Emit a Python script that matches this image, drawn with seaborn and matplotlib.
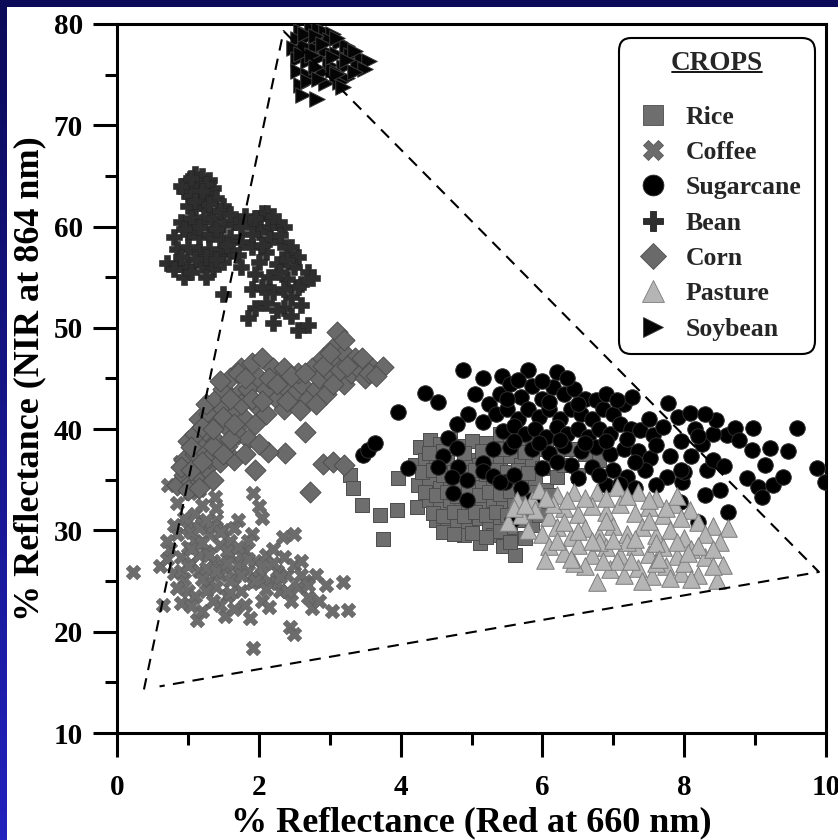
import matplotlib
matplotlib.use("Agg")
import numpy as np
import pandas as pd
import matplotlib.pyplot as plt
import seaborn as sns
from matplotlib.lines import Line2D
from matplotlib.patches import Rectangle
from matplotlib.transforms import IdentityTransform
from matplotlib.ticker import MultipleLocator

# ---------------------------------------------------------------- data
crops = ["Rice", "Coffee", "Sugarcane", "Bean", "Corn", "Pasture", "Soybean"]

rice_x = [3.29, 3.33, 3.46, 3.71, 3.75, 3.96, 3.95,
          4.27, 4.41, 4.55, 4.70, 4.85, 5.00, 5.20, 5.40, 5.55, 5.70, 5.85,
          4.20, 4.35, 4.50, 4.65, 4.80, 4.95, 5.10, 5.25, 5.40, 5.55, 5.70, 5.85, 6.00, 6.20, 6.40, 6.60, 6.80,
          4.25, 4.40, 4.55, 4.70, 4.85, 5.00, 5.15, 5.30, 5.45, 5.60, 5.75, 5.90, 6.05, 6.20,
          4.23, 4.40, 4.55, 4.70, 4.85, 5.00, 5.15, 5.30, 5.45, 5.60, 5.75, 5.90,
          4.50, 4.65, 4.80, 4.95, 5.10, 5.25, 5.40, 5.55, 5.70, 5.85,
          5.12, 5.30, 5.45, 5.61, 5.75, 4.90,
          4.30, 4.45, 4.60, 4.75, 4.90, 5.05, 5.20, 5.35, 5.50, 5.65, 5.80,
          4.35, 4.50, 4.65, 4.80, 4.95, 5.10, 5.25, 5.40, 5.55, 5.70, 5.85,
          4.45, 4.60, 4.75, 4.90, 5.05, 5.20, 5.35, 5.50, 5.65,
          4.60, 4.75, 5.00, 5.20, 5.40, 5.55,
          4.40, 4.60, 4.90, 5.15, 5.45, 5.75, 6.05, 6.30, 6.50, 6.10, 5.95]
rice_y = [35.5, 34.2, 32.5, 31.5, 29.2, 35.2, 32.0,
          38.2, 38.9, 38.5, 39.0, 38.3, 38.8, 38.6, 39.5, 38.8, 38.2, 39.0,
          36.5, 37.0, 36.3, 36.8, 36.0, 37.0, 36.5, 37.2, 36.8, 37.3, 36.5, 37.0, 36.2, 37.5, 38.0, 37.5, 37.0,
          34.5, 35.0, 34.2, 35.0, 34.5, 35.2, 34.3, 35.0, 34.5, 35.2, 34.5, 35.0, 34.0, 35.3,
          32.3, 33.0, 32.3, 33.0, 32.0, 32.8, 32.2, 33.0, 32.3, 33.0, 32.0, 32.8,
          31.0, 30.3, 31.0, 30.5, 31.2, 30.3, 31.0, 30.3, 31.0, 30.5,
          28.8, 29.5, 28.5, 27.6, 29.3, 29.5,
          35.8, 36.0, 35.5, 35.8, 35.8, 36.0, 35.6, 36.0, 35.8, 36.0, 35.7,
          33.8, 33.5, 33.8, 33.4, 33.9, 33.5, 33.8, 33.6, 33.9, 33.5, 33.8,
          31.7, 31.4, 31.8, 31.4, 31.8, 31.5, 31.8, 31.5, 31.8,
          29.8, 29.6, 29.7, 29.4, 29.9, 28.9,
          37.6, 37.8, 37.6, 37.8, 38.0, 37.7, 38.0, 36.5, 35.5, 33.5, 31.5]

coffee_x = [0.23, 0.60, 0.65, 0.70, 0.72, 0.75, 0.80, 0.85, 0.85, 0.89, 0.90, 0.90, 0.95,
            1.00, 1.00, 1.00, 1.00, 1.03, 1.05, 1.10, 1.10, 1.10, 1.13, 1.15, 1.20, 1.20, 1.20,
            1.25, 1.30, 1.30, 1.35, 1.38, 1.40, 1.40, 1.45, 1.50, 1.50, 1.52, 1.55, 1.60, 1.60,
            1.65, 1.70, 1.70, 1.75, 1.80, 1.80, 1.85, 1.88, 1.90, 1.90, 1.92, 1.92, 1.95, 2.00,
            2.00, 2.04, 2.05, 2.10, 2.15, 2.20, 2.25, 2.30, 2.34, 2.35, 2.40, 2.45, 2.44, 2.50,
            2.50, 2.50, 2.55, 2.60, 2.65, 2.70, 2.75, 2.80, 2.85, 2.95, 3.03, 3.19, 3.26,
            1.05, 1.15, 1.25, 1.35, 1.45, 1.55, 1.65, 1.75, 1.85, 1.25, 1.45, 0.95, 1.15, 2.15,
            2.25, 1.65,
            0.70, 0.80, 0.90, 1.00, 1.05, 1.15, 1.20, 1.25, 1.30, 1.40, 1.45, 1.55, 1.60, 1.70,
            1.75, 1.85, 1.95, 2.05, 2.10, 2.20, 2.30, 2.40, 2.60, 2.70, 1.35, 1.60, 1.05, 0.85,
            1.20, 1.40]
coffee_y = [25.9, 26.5, 22.6, 27.2, 34.5, 28.2, 25.8, 29.6, 32.7, 36.8, 27.4, 22.8, 25.2,
            30.2, 28.4, 24.0, 35.3, 33.7, 26.8, 31.6, 29.0, 23.5, 21.2, 26.0, 32.5, 30.6, 22.0,
            28.0, 25.0, 29.6, 27.0, 33.3, 31.0, 24.4, 28.6, 26.5, 30.0, 21.6, 23.5, 27.6, 29.0,
            25.4, 31.0, 26.6, 24.0, 28.0, 22.6, 26.0, 21.4, 29.6, 24.8, 33.7, 18.4, 27.0, 25.4,
            32.4, 31.2, 23.0, 27.6, 25.0, 28.2, 26.0, 24.0, 29.4, 27.4, 25.6, 23.0, 20.5, 19.8,
            26.6, 29.6, 24.4, 27.0, 25.0, 23.4, 22.3, 25.6, 23.0, 24.6, 22.0, 24.9, 22.1,
            29.8, 27.6, 26.3, 30.4, 25.6, 28.0, 30.2, 27.6, 29.0, 24.0, 22.6, 31.2, 34.0, 22.4,
            24.8, 22.2,
            29.0, 30.5, 26.0, 26.5, 28.2, 30.2, 28.8, 31.0, 27.6, 26.0, 29.8, 26.8, 25.0, 28.4,
            25.6, 27.2, 25.0, 26.5, 24.2, 26.8, 25.4, 24.0, 25.6, 24.6, 23.0, 23.8, 22.5, 24.3,
            25.2, 32.2]

sugarcane_x = [3.47, 3.54, 3.64, 3.96, 4.10, 4.34, 4.53, 4.88, 5.16, 5.43, 5.80, 6.20,
               4.67, 4.80, 4.60, 4.53, 4.81, 4.72, 4.94, 4.74, 4.94, 5.16, 5.16, 5.30, 5.30,
               5.47, 5.16, 4.95, 4.80, 5.05, 5.25, 5.60, 5.70, 5.85,
               5.40, 5.55, 5.70, 5.85, 6.00, 6.15, 6.30, 6.45, 6.60, 6.75,
               5.35, 5.50, 5.65, 5.80, 5.95, 6.10, 6.25, 6.40, 6.55, 6.70, 6.85, 7.00, 7.15, 7.26,
               5.45, 5.60, 5.75, 5.90, 6.05, 6.20, 6.35, 6.50, 6.65, 6.80, 6.95, 7.10, 7.25, 7.38,
               7.56, 7.50, 7.77, 7.91, 8.08,
               5.55, 5.85, 6.10, 6.30, 6.55, 6.75, 6.95, 7.15, 7.35, 7.52, 7.80,
               6.40, 6.70, 7.00, 7.20, 7.45, 7.76, 7.97, 7.94, 7.30, 6.90,
               8.32, 8.41, 8.56, 8.60, 8.72, 8.77, 8.97, 8.96, 9.14, 9.21, 9.46, 9.59, 8.88,
               9.04, 9.25, 9.39, 9.10, 9.87, 9.99, 8.62, 8.19, 8.25, 8.40, 8.15,
               7.60, 8.00, 8.50, 8.30, 6.20, 6.50, 6.80, 7.10, 5.40, 5.57,
               5.65, 6.00, 6.35, 5.50, 6.10, 6.50, 6.90, 7.05, 5.60, 5.95, 6.25, 6.60,
               6.90, 7.20, 7.60, 7.95, 8.20, 7.70, 8.45, 8.30, 6.00, 7.30, 7.95, 8.10]
sugarcane_y = [37.4, 37.9, 38.6, 41.7, 36.2, 43.6, 42.7, 45.8, 45.0, 45.2, 45.8, 45.6,
               39.1, 38.1, 37.3, 36.3, 36.3, 35.3, 35.0, 33.7, 33.0, 36.7, 35.9, 38.0, 35.4,
               34.8, 40.7, 41.5, 40.5, 43.5, 42.5, 35.5, 34.2, 33.0,
               43.5, 44.5, 43.2, 44.3, 43.0, 44.2, 43.5, 44.0, 43.0, 42.9,
               41.5, 42.0, 41.0, 42.0, 41.2, 42.0, 41.0, 42.0, 41.5, 41.0, 42.0, 41.5, 42.5, 43.2,
               39.8, 40.3, 39.5, 40.0, 39.2, 40.2, 39.5, 40.0, 39.2, 40.0, 39.5, 40.5, 40.0, 39.9,
               39.4, 41.0, 42.6, 41.2, 41.6,
               38.2, 38.0, 37.6, 38.3, 37.8, 38.2, 37.5, 38.0, 37.8, 37.2, 37.3,
               36.5, 36.3, 36.0, 35.3, 36.0, 35.3, 34.8, 32.8, 34.2, 34.5,
               36.0, 37.0, 36.4, 39.4, 40.1, 38.9, 40.1, 37.9, 36.5, 38.1, 37.8, 40.1, 35.2,
               34.3, 34.5, 35.3, 33.3, 36.2, 34.8, 31.8, 30.8, 38.5, 39.5, 40.0,
               34.5, 35.8, 34.0, 33.5, 36.8, 35.2, 35.5, 34.6, 34.8, 31.0,
               44.9, 44.8, 45.0, 43.0, 42.7, 42.5, 43.5, 42.9, 38.8, 38.6, 38.9, 38.6,
               38.8, 39.0, 38.4, 38.8, 39.3, 40.2, 40.9, 41.5, 36.2, 36.8, 36.0, 37.3]

bean_x = [1.00, 1.10, 1.20, 1.30, 1.15, 1.35, 0.95, 1.05, 1.25, 1.40, 1.50, 1.20, 1.10, 1.30, 1.00,
          0.90, 1.05, 1.20, 1.35, 1.50, 1.65, 1.80, 1.95, 2.05, 0.80, 1.00, 1.15, 1.30, 1.45,
          1.60, 1.75, 0.85, 1.00, 1.15, 1.30, 1.45, 1.60, 0.70, 0.85, 1.00, 1.20, 1.35, 1.50,
          0.95, 1.25, 1.50,
          2.11, 2.16, 2.20, 2.35, 2.00, 2.15, 2.30, 1.90, 2.10, 2.40, 2.55, 2.00, 2.25, 2.50,
          2.70, 1.95, 2.15, 2.40, 2.75, 2.60, 1.90, 2.20, 2.45, 2.10, 2.35, 1.95, 2.60, 1.85,
          2.20, 2.55, 2.70,
          0.90, 1.05, 1.25, 1.20, 1.10, 1.30, 1.45, 1.60, 1.75, 1.90, 1.15, 0.95, 1.40, 1.55,
          1.70, 1.25, 1.10, 0.90, 1.40, 1.05, 0.80, 1.75, 2.30, 2.45, 2.05, 2.30, 2.55, 2.05,
          2.35, 2.25, 2.45, 1.95, 2.20, 2.40]
bean_y = [64.5, 65.2, 65.0, 64.6, 64.0, 63.8, 63.5, 63.0, 63.2, 62.8, 62.0, 62.3, 61.8, 61.5, 62.0,
          60.5, 60.8, 60.5, 60.8, 60.2, 60.5, 61.0, 60.3, 61.3, 59.0, 59.5, 59.0, 59.3, 58.8,
          59.0, 58.5, 57.8, 58.0, 57.5, 57.8, 57.3, 57.6, 56.4, 56.3, 56.0, 56.2, 55.8, 56.5,
          55.0, 55.0, 53.3,
          61.3, 60.0, 60.5, 60.0, 59.5, 58.8, 58.5, 58.0, 57.5, 57.3, 57.0, 56.5, 56.3, 56.0,
          55.5, 55.3, 55.0, 54.8, 54.9, 54.3, 53.8, 53.5, 53.0, 52.5, 52.0, 52.0, 52.3, 51.0,
          50.5, 49.8, 50.3,
          64.0, 64.8, 64.2, 63.5, 62.5, 62.2, 61.5, 61.2, 60.0, 59.3, 60.0, 59.8, 59.8, 58.2,
          57.2, 57.0, 56.8, 57.0, 56.8, 55.5, 55.8, 56.0, 59.2, 58.0, 58.2, 55.5, 54.0, 54.0,
          53.8, 51.8, 51.2, 60.8, 61.0, 56.7]

corn_x = [0.85, 0.95, 1.05, 1.15, 1.25, 1.35, 0.95, 1.10, 1.20, 1.30, 1.45, 1.00, 1.10, 1.25,
          1.40, 1.55, 1.65, 1.15, 1.30, 1.40, 1.55, 1.70, 1.85, 1.25, 1.40, 1.50, 1.65, 1.80,
          1.95, 1.50, 1.60, 1.70, 1.85, 1.95, 2.10, 1.75, 1.90, 2.00, 2.10, 2.25, 2.35, 2.05,
          2.20, 2.30, 2.40, 2.50, 2.60, 2.70, 2.80, 2.55, 2.75, 2.85, 2.95, 3.00, 3.10, 3.20,
          3.30, 3.40, 3.50, 3.60, 3.75, 2.90, 3.05, 3.20, 3.35, 3.10, 3.20, 2.72, 2.90, 3.05,
          3.20, 2.65, 2.37, 2.13, 2.58, 1.80, 2.00, 1.95,
          0.90, 1.05, 1.20, 1.35, 1.50, 1.60, 1.05, 1.20, 1.35, 1.50, 1.65, 1.75, 1.60, 1.45,
          1.70, 1.80, 1.90, 2.05, 2.15, 2.25, 2.35, 2.45, 2.40, 2.65, 2.90, 3.05, 3.15, 3.25,
          3.45, 3.55, 3.65, 3.00, 2.80, 1.00, 1.15]
corn_y = [34.5, 35.5, 34.8, 35.5, 36.2, 35.0, 37.0, 37.5, 38.0, 37.2, 36.8, 38.8, 39.5, 39.8,
          38.8, 38.3, 37.0, 41.0, 41.5, 40.5, 40.2, 39.5, 39.0, 42.5, 43.0, 42.0, 41.5, 41.0,
          40.5, 44.0, 45.0, 43.5, 44.0, 42.5, 41.5, 46.0, 46.5, 45.0, 44.0, 43.0, 42.0, 47.0,
          46.0, 45.0, 44.0, 43.5, 44.5, 43.0, 44.0, 45.5, 46.0, 45.0, 43.5, 45.5, 46.5, 44.5,
          45.5, 46.0, 45.0, 46.0, 46.1, 47.0, 48.0, 47.5, 47.0, 49.6, 48.8, 33.8, 36.6, 36.8,
          36.5, 39.7, 37.6, 37.7, 41.9, 37.5, 38.5, 36.0,
          36.3, 36.0, 36.8, 38.3, 37.5, 39.0, 38.2, 40.2, 40.0, 41.2, 40.5, 42.5, 43.0, 44.8,
          45.5, 45.0, 43.0, 42.8, 45.0, 44.5, 46.0, 45.2, 42.8, 45.5, 46.2, 44.5, 45.8, 46.2,
          47.0, 45.5, 45.2, 47.5, 42.5, 34.0, 34.2]

pasture_x = [5.64, 5.85, 5.95, 6.20, 6.45, 6.77, 7.05, 7.35, 7.60, 7.85, 8.08,
             5.51, 5.70, 5.90, 6.10, 6.30, 6.50, 6.70, 6.90, 7.10, 7.30, 7.50, 7.70, 7.95, 8.20,
             8.40, 8.62,
             5.80, 6.00, 6.20, 6.40, 6.60, 6.80, 7.00, 7.20, 7.40, 7.60, 7.80, 8.00, 8.30, 8.50,
             6.10, 6.30, 6.50, 6.70, 6.90, 7.10, 7.30, 7.50, 7.70, 7.90, 8.10, 8.30, 8.55, 6.04,
             6.60, 6.77, 6.95, 7.15, 7.35, 7.55, 7.75, 7.95, 8.20, 8.46, 7.05, 6.45,
             6.30, 6.90, 7.50, 7.20, 6.80, 7.60, 8.00, 5.60, 6.15, 7.90,
             5.75, 6.05, 6.35, 6.60, 6.90, 7.20, 7.50, 7.75, 6.20, 6.50, 6.70, 7.00, 7.30,
             7.60, 7.90, 8.20, 8.40, 6.40, 6.85, 7.25, 7.65, 8.05, 8.40, 7.40, 7.80, 8.10]
pasture_y = [33.0, 33.0, 34.0, 33.5, 33.8, 33.8, 34.3, 33.8, 33.2, 32.6, 32.0,
             30.8, 31.5, 32.0, 31.3, 32.2, 31.6, 32.4, 31.8, 32.6, 31.7, 32.3, 31.5, 31.2, 30.8,
             30.4, 30.2,
             30.0, 29.6, 30.3, 29.4, 30.2, 29.5, 30.4, 29.6, 30.3, 29.5, 30.0, 29.3, 29.6, 28.9,
             28.5, 27.8, 28.6, 27.6, 28.4, 27.6, 28.5, 27.7, 28.4, 27.5, 28.2, 27.4, 26.6, 27.1,
             26.5, 24.9, 26.2, 25.6, 26.3, 25.5, 26.5, 25.8, 25.6, 25.1, 27.0, 26.8,
             30.8, 30.9, 30.9, 28.9, 28.9, 26.8, 26.8, 32.2, 32.6, 33.4,
             32.5, 33.2, 33.0, 33.2, 33.2, 33.4, 33.0, 32.2, 29.0, 29.9, 29.0, 29.1, 29.2,
             28.8, 28.9, 28.5, 28.2, 27.2, 27.0, 27.0, 27.2, 27.8, 26.5, 25.0, 25.3, 25.2]

soybean_x = [2.60, 2.75, 2.85, 2.95, 3.05, 2.55, 2.70, 2.85, 3.00, 3.15, 3.25,
             2.50, 2.65, 2.80, 2.95, 3.10, 3.30, 3.45, 3.55, 2.55, 2.70, 2.85, 3.00, 3.20,
             3.40, 3.50, 2.55, 2.70, 2.90, 3.05, 3.25, 2.60, 2.95, 3.15, 2.62, 2.82, 3.19,
             2.65, 2.80, 2.90, 3.10, 3.35, 2.60, 2.75, 3.05, 3.25, 2.80, 3.10, 3.35, 2.70, 2.85]
soybean_y = [79.3, 79.6, 79.5, 79.2, 79.0, 78.5, 78.7, 78.3, 78.4, 78.2, 77.8,
             77.6, 77.8, 77.5, 77.3, 77.0, 76.9, 76.6, 76.3, 76.5, 76.3, 76.6, 76.0, 75.8,
             76.0, 75.6, 75.4, 75.0, 75.3, 75.5, 74.7, 74.0, 74.2, 74.3, 73.0, 72.6, 73.8,
             79.0, 78.8, 78.0, 78.6, 77.3, 77.0, 76.9, 76.7, 76.4, 75.8, 75.1, 75.3, 74.4, 74.6]

# dashed envelope around all crops
envelope_x = [0.38, 2.35, 9.90, 0.60]
envelope_y = [14.3, 79.3, 25.9, 14.6]

series = {
    "Rice": (rice_x, rice_y), "Coffee": (coffee_x, coffee_y),
    "Sugarcane": (sugarcane_x, sugarcane_y), "Bean": (bean_x, bean_y),
    "Corn": (corn_x, corn_y), "Pasture": (pasture_x, pasture_y),
    "Soybean": (soybean_x, soybean_y),
}
df = pd.concat([pd.DataFrame({"red": x, "nir": y, "crop": c})
                for c, (x, y) in series.items()], ignore_index=True)

# marker, face colour, edge colour, size (pt^2), edge width
styles = {
    "Rice":      ("s", "#6e6e6e", "#4c4c4c", 110, 0.7),
    "Coffee":    ("X", "#6c6c6c", "#5a5a5a", 110, 0.4),
    "Sugarcane": ("o", "#000000", "#2e2e2e", 125, 0.7),
    "Bean":      ("P", "#2e2e2e", "#222222", 140, 0.4),
    "Corn":      ("D", "#6a6a6a", "#4e4e4e", 115, 0.7),
    "Pasture":   ("^", "#b5b5b5", "#7c7c7c", 160, 0.7),
    "Soybean":   (">", "#050505", "#3a3a3a", 125, 0.7),
}

# ---------------------------------------------------------------- figure
sns.set_theme(style="white")
plt.rcParams["font.family"] = ["Liberation Serif", "DejaVu Serif"]
plt.rcParams["font.weight"] = "bold"

W, H, DPI = 838, 840, 100
fig = plt.figure(figsize=(W / DPI, H / DPI), dpi=DPI, facecolor="white")

# slide frame: navy band on top, blue gradient on the left edge
fig.add_artist(Rectangle((0, 1 - 7 / H), 1, 7 / H, transform=fig.transFigure,
                         facecolor="#0b0a58", edgecolor="none", zorder=5))
gax = fig.add_axes([0, 0, 6 / W, 1])
top_c = np.array([11, 10, 88]) / 255
bot_c = np.array([34, 34, 190]) / 255
grad = np.linspace(0, 1, 256)[:, None, None] * (bot_c - top_c) + top_c
gax.imshow(grad, aspect="auto", extent=[0, 1, 0, 1], origin="upper")
gax.axis("off")

ax = fig.add_axes([117 / W, 1 - 733 / H, (826 - 117) / W, (733 - 24) / H])
ax.set_facecolor("white")

for crop in crops:
    m, fc, ec, s, lw = styles[crop]
    sns.scatterplot(data=df[df["crop"] == crop], x="red", y="nir", marker=m,
                    color=fc, edgecolor=ec, linewidth=lw, s=s, ax=ax,
                    legend=False, zorder=3)

ax.plot(envelope_x, envelope_y, color="black", lw=1.5,
        linestyle=(0, (5.5, 4.0)), zorder=6)

ax.set_xlim(0, 10)
ax.set_ylim(10, 80)
ax.xaxis.set_major_locator(MultipleLocator(2))
ax.xaxis.set_minor_locator(MultipleLocator(1))
ax.yaxis.set_major_locator(MultipleLocator(10))
ax.yaxis.set_minor_locator(MultipleLocator(5))
ax.tick_params(which="major", direction="out", length=17.5, width=2.2,
               color="black", labelsize=21, labelcolor="black",
               bottom=True, left=True, top=False, right=False)
ax.tick_params(axis="x", which="major", pad=12)
ax.tick_params(axis="y", which="major", pad=7)
ax.tick_params(which="minor", direction="out", length=8.5, width=2.2,
               color="black", bottom=True, left=True, top=False, right=False)
for lab in ax.get_xticklabels() + ax.get_yticklabels():
    lab.set_fontweight("bold")
for sp in ax.spines.values():
    sp.set_visible(True)
    sp.set_color("black")
    sp.set_linewidth(2.2)

ax.set_xlabel("% Reflectance (Red at 660 nm)", fontsize=26, fontweight="bold",
              color="black")
ax.set_ylabel("% Reflectance (NIR at 864 nm)", fontsize=26, fontweight="bold",
              color="black")
ax.xaxis.set_label_coords(0.5, -0.104)
ax.yaxis.set_label_coords(-0.099, 0.5)

# ---------------------------------------------------------------- legend
handles = []
for crop in crops:
    m, fc, ec, s, lw = styles[crop]
    ms = {"s": 15, "X": 14, "o": 15, "P": 15, "D": 13, "^": 16, ">": 15}[m]
    handles.append(Line2D([], [], linestyle="none", marker=m, markersize=ms,
                          markerfacecolor=fc, markeredgecolor=ec,
                          markeredgewidth=0.6))

leg = ax.legend(handles, crops, loc="upper right",
                bbox_to_anchor=((815 - 117) / 709, (733 - 38) / 709),
                borderaxespad=0, title="CROPS", frameon=True, fancybox=True,
                prop={"family": "Liberation Serif", "weight": "bold", "size": 18.5},
                title_fontproperties={"family": "Liberation Serif",
                                      "weight": "bold", "size": 19.5},
                handlelength=1.63, handletextpad=0.47, borderpad=0.52,
                labelspacing=0.48, framealpha=1)
frame = leg.get_frame()
frame.set_edgecolor("black")
frame.set_linewidth(1.5)
frame.set_facecolor("white")
frame.set_boxstyle("round", pad=0, rounding_size=0.5)
leg._legend_box.sep = 21
leg.set_zorder(10)

fig.canvas.draw()
tb = leg.get_title().get_window_extent()
uy = tb.y0 + 4
fig.add_artist(Line2D([tb.x0 + 1, tb.x1 - 1], [uy, uy], transform=IdentityTransform(),
                      color="black", lw=1.3, zorder=20))

fig.savefig("out.png", dpi=DPI, facecolor="white")
